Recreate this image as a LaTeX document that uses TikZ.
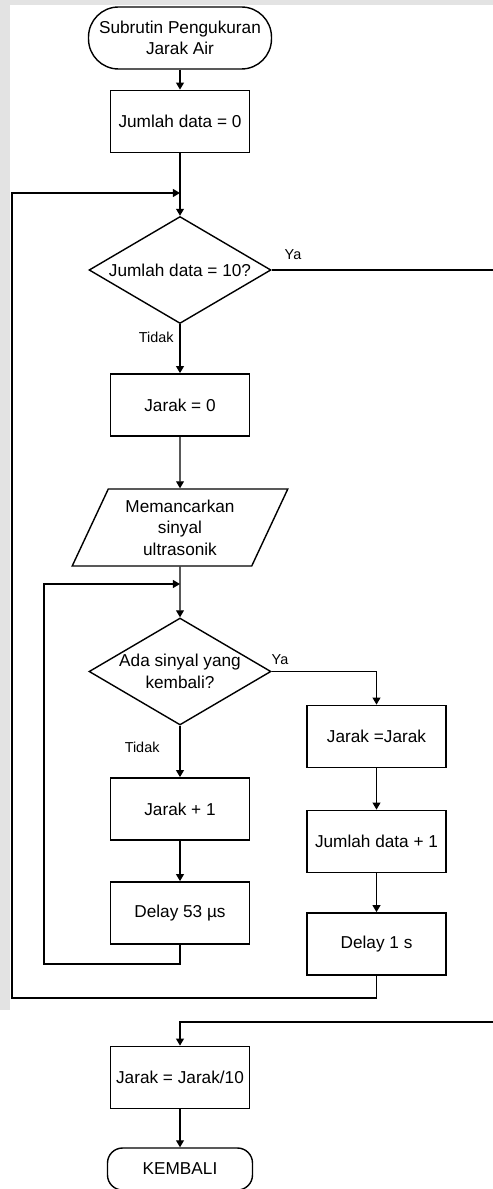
\documentclass[tikz,border=0pt]{standalone}
\usepackage{fontspec}
\setmainfont{Liberation Sans}
\usetikzlibrary{shapes.geometric, arrows.meta, positioning}

\begin{document}
\begin{tikzpicture}[
    x=0.02cm, y=-0.02cm,
    font=\fontsize{9.8}{12.2}\selectfont,
    >={Triangle[width=4.5pt,length=4pt]},
    line/.style={line width=0.7pt},
    process/.style={rectangle, draw, line width=1pt, minimum width=2.78cm, minimum height=1.24cm, align=center, inner sep=1pt},
    decision/.style={diamond, draw, line width=0.8pt, aspect=1.7, minimum width=3.64cm, minimum height=2.14cm, inner sep=0pt, align=center},
    terminal/.style={rectangle, draw, line width=0.8pt, rounded corners=0.6cm, align=center, inner sep=1pt},
    io/.style={trapezium, draw, line width=0.8pt, trapezium left angle=63.7, trapezium right angle=116.3, trapezium stretches=true, minimum width=4.32cm, minimum height=1.54cm, align=center, inner sep=0pt},
    lbl/.style={font=\fontsize{8.2}{9.6}\selectfont}
]
\useasboundingbox (0,0) rectangle (493,1189);

% Background bands
\fill[gray!22] (0,0) rectangle (493,5);
\fill[gray!22] (0,0) rectangle (10,1010);

% Start
\node[terminal, minimum width=3.66cm, minimum height=1.24cm] (t1) at (180,38) {Subrutin Pengukuran\\Jarak Air};
\node[process] (p1) at (180,121.5) {Jumlah data = 0};
\coordinate (j1) at (180,193);

% Outer decision
\node[decision] (d1) at (180,270) {Jumlah data = 10?};
\node[lbl] (ya1) at (293,255) {Ya};
\node[process] (p2) at (180,405) {Jarak = 0};
\node[io] (io1) at (180,527.5) {Memancarkan\\sinyal\\ultrasonik};
\coordinate (j2) at (180,584);

% Inner decision
\node[decision, inner sep=-4pt] (d2) at (180,671.5) {Ada sinyal yang\\kembali?};
\node[lbl] (ya2) at (280,660) {Ya};
\node[process] (p3) at (180,809) {Jarak + 1};
\node[process] (p4) at (180,913) {Delay 53 µs};
\node[process] (p5) at (376.5,736.5) {Jarak =Jarak};
\node[process] (p6) at (376.5,841.5) {Jumlah data + 1};
\node[process] (p7) at (376.5,944) {Delay 1 s};

% End
\node[process] (p8) at (180,1077.5) {Jarak = Jarak/10};
\node[terminal, rounded corners=0.3cm, minimum width=2.9cm, minimum height=0.84cm] (t2) at (180,1169) {KEMBALI};

% Connectors
\draw[line, ->] (t1) -- (p1);
\draw[line, ->] (p1) -- (d1);
\draw[line, ->] (d1) -- node[lbl, left, pos=0.27] {Tidak} (p2);
\draw[line, ->] (p2) -- (io1);
\draw[line, ->] (io1) -- (d2);
\draw[line, ->] (d2) -- node[lbl, left=8pt, pos=0.42] {Tidak} (p3);
\draw[line, ->] (d2) -| (p5);
\draw[line, ->] (p5) -- (p6);
\draw[line, ->] (p6) -- (p7);
\draw[line, ->] (p3) -- (p4);

% Inner loop
\coordinate (c1) at (44,964);
\draw[line, ->] (p4) |- (c1) |- (j2);

% Outer loop
\coordinate (c2) at (12,998);
\draw[line, ->] (p7) |- (c2) |- (j1);

% Ya exit
\coordinate (r1) at (500,270);
\coordinate (r2) at (500,1022);
\draw[line, ->] (d1) -- (r1) -- (r2) -| (p8);
\draw[line, ->] (p8) -- (t2);

\end{tikzpicture}
\end{document}
